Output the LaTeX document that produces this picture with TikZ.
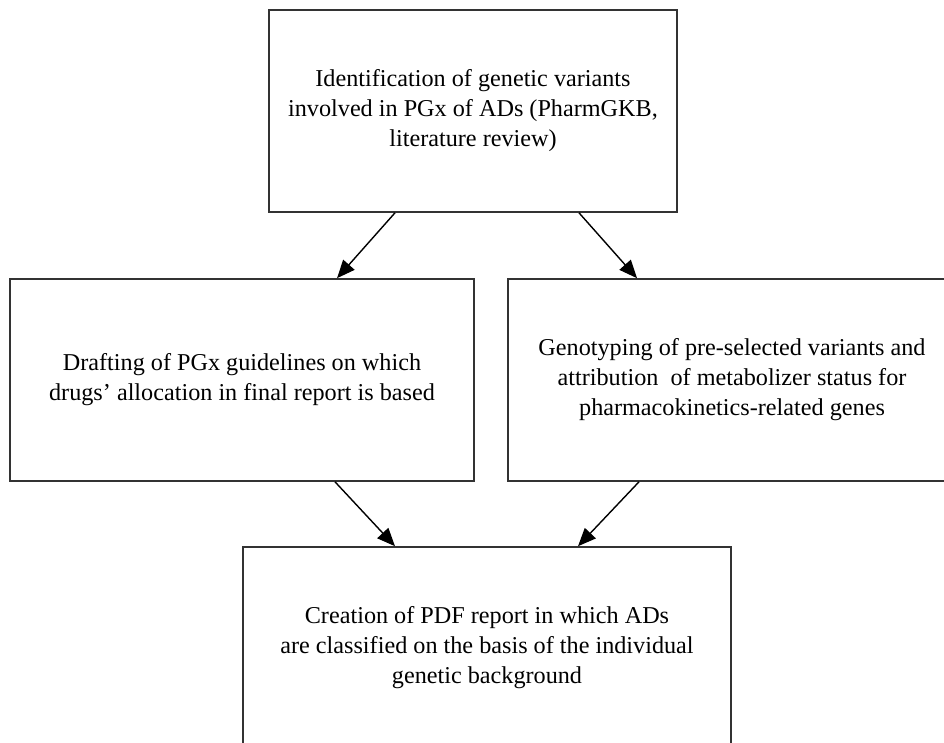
\documentclass[tikz,border=0pt]{standalone}
\usepackage{fontspec}
\setmainfont{Liberation Serif}
\usetikzlibrary{arrows.meta, calc}

\begin{document}
\begin{tikzpicture}[x=1pt, y=-1pt, >={Triangle[length=18pt,width=15pt]},
    stepbox/.style={draw=black!80, line width=1.6pt, minimum width=#1, minimum height=202pt,
        align=center, inner sep=0pt, font=\fontsize{24.2}{30}\selectfont},
    flow/.style={->, line width=1.4pt}]
    \useasboundingbox (0,0) rectangle (944,742);
    \clip (0,0) rectangle (944,742);
    \node[stepbox=408pt] (ident) at (473,111) {Identification of genetic variants\\involved in PGx of ADs (PharmGKB,\\literature review)};
    \node[stepbox=464pt] (draft) at (242,380) {Drafting of PGx guidelines on which\\drugs' allocation in final report is based};
    \node[stepbox=448pt] (geno) at (732,380) {Genotyping of pre-selected variants and\\attribution\ \ of metabolizer status for\\pharmacokinetics-related genes};
    \node[stepbox=488pt] (report) at (487,648) {Creation of PDF report in which ADs\\are classified on the basis of the individual\\genetic background};
    \draw[flow] ([xshift=-78pt]ident.south) -- ([xshift=95pt]draft.north);
    \draw[flow] ([xshift=106pt]ident.south) -- ([xshift=-95pt]geno.north);
    \draw[flow] ([xshift=93pt]draft.south) -- ([xshift=-92pt]report.north);
    \draw[flow] ([xshift=-93pt]geno.south) -- ([xshift=91pt]report.north);
\end{tikzpicture}
\end{document}
